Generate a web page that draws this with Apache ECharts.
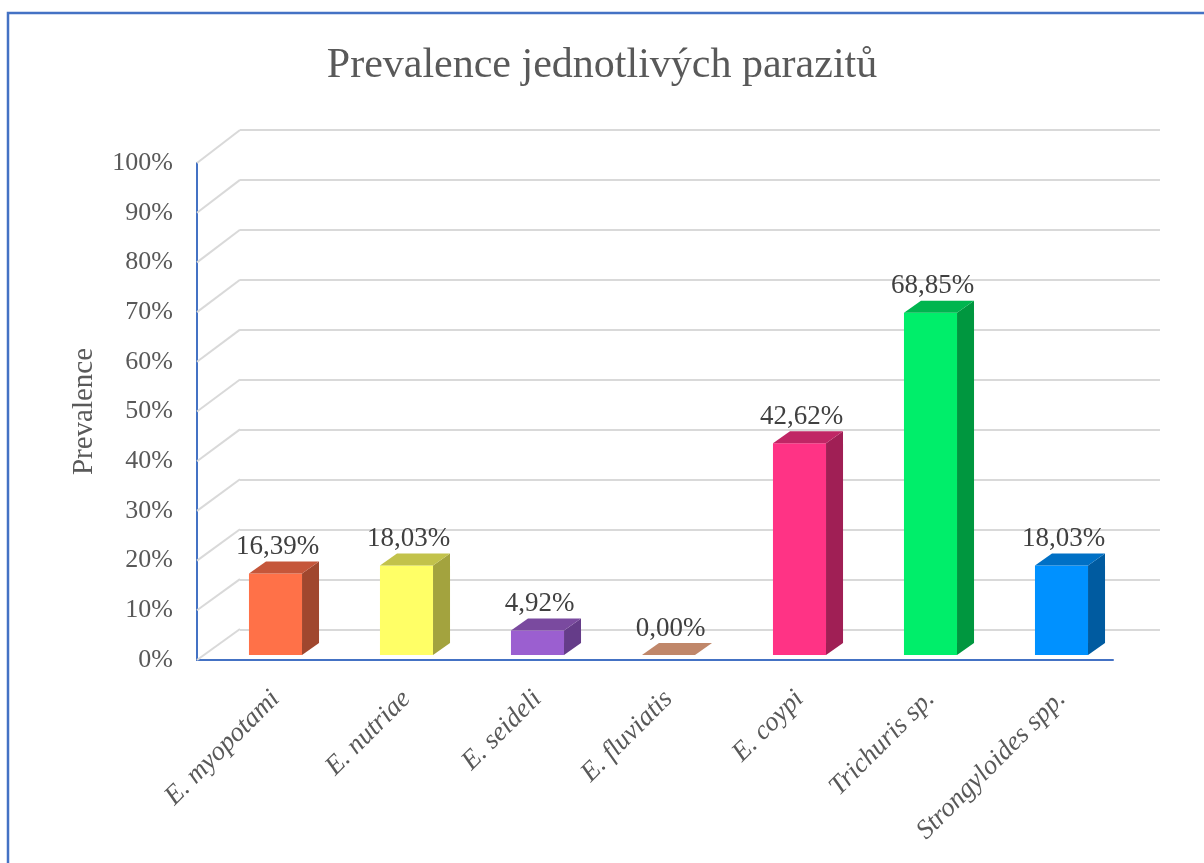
<!DOCTYPE html>
<html>
<head>
<meta charset="utf-8">
<script src="https://cdn.jsdelivr.net/npm/echarts@6/dist/echarts.min.js"></script>
<style>
  html, body { margin: 0; padding: 0; background: #fff; }
  #chart { width: 1204px; height: 863px; }
</style>
</head>
<body>
<div id="chart"></div>
<script>
const categories = ['E. myopotami', 'E. nutriae', 'E. seideli', 'E. fluviatis', 'E. coypi', 'Trichuris sp.', 'Strongyloides spp.'];
const prevalence = [16.39, 18.03, 4.92, 0.00, 42.62, 68.85, 18.03];
const yTicks = [0, 10, 20, 30, 40, 50, 60, 70, 80, 90, 100];

// front / side / top face colours of each bar
const frontColors = ['#FF7148', '#FFFF66', '#9B5FD0', '#C0876A', '#FF3385', '#00EE6A', '#0091FF'];
const sideColors  = ['#A0472E', '#A3A33E', '#653C89', '#8A5C45', '#A01F55', '#00973F', '#005BA0'];
const topColors   = ['#C5563A', '#C2C24B', '#7A4A9F', '#C0876A', '#C02665', '#00B54F', '#0070C5'];

const FONT = '"Liberation Serif", "Times New Roman", serif';
const DEPTH_X = 17, DEPTH_Y = 12;   // bar depth
const WALL_X = 43, WALL_Y = 31;     // front plane -> back wall

const myChart = echarts.init(document.getElementById('chart'));

const option = {
  animation: false,
  backgroundColor: '#fff',
  title: {
    text: 'Prevalence jednotlivých parazitů',
    left: 'center',
    top: 40,
    textStyle: { fontFamily: FONT, fontSize: 42, fontWeight: 'normal', color: '#595959' }
  },
  graphic: [{
    type: 'rect',
    shape: { x: 8, y: 13, width: 1400, height: 1000 },
    style: { fill: 'none', stroke: '#4472C4', lineWidth: 2.5 },
    silent: true,
    z: 100
  }],
  grid: [
    // front plane (axes)
    { left: 197, top: 163, width: 916, height: 497 },
    // back wall (gridlines)
    { left: 240, top: 130, width: 920, height: 500 },
    // bar plane
    { left: 210, top: 158, width: 917, height: 497 }
  ],
  xAxis: [
    {
      gridIndex: 0, type: 'value', min: 0, max: 1,
      axisLine: { show: true, lineStyle: { color: '#4472C4', width: 2 } },
      axisTick: { show: false }, axisLabel: { show: false }, splitLine: { show: false }
    },
    {
      gridIndex: 1, type: 'value', min: 0, max: 1, show: false
    },
    {
      gridIndex: 2, type: 'category', data: categories,
      axisLine: { show: false }, axisTick: { show: false },
      axisLabel: {
        rotate: 45, margin: 40, interval: 0,
        fontFamily: FONT, fontSize: 27, fontStyle: 'italic', color: '#595959'
      }
    }
  ],
  yAxis: [
    {
      gridIndex: 0, type: 'value', min: 0, max: 100, interval: 10,
      name: 'Prevalence', nameLocation: 'middle', nameGap: 98, nameRotate: 90,
      nameTextStyle: { fontFamily: FONT, fontSize: 29, color: '#595959' },
      axisLine: { show: true, lineStyle: { color: '#4472C4', width: 2 } },
      axisTick: { show: false },
      axisLabel: { formatter: '{value}%', margin: 24, fontFamily: FONT, fontSize: 26, color: '#595959' },
      splitLine: { show: false }
    },
    {
      gridIndex: 1, type: 'value', min: 0, max: 100, interval: 10,
      axisLine: { show: false }, axisTick: { show: false }, axisLabel: { show: false },
      splitLine: { show: true, lineStyle: { color: '#D9D9D9', width: 2 } }
    },
    {
      gridIndex: 2, type: 'value', min: 0, max: 100, show: false
    }
  ],
  series: [
    {
      // diagonal gridlines on the side wall
      type: 'custom',
      xAxisIndex: 0, yAxisIndex: 0,
      silent: true,
      z: 1,
      data: yTicks.map(v => [0, v]),
      renderItem: function (params, api) {
        const p = api.coord([0, api.value(1)]);
        return {
          type: 'line',
          shape: { x1: p[0], y1: p[1], x2: p[0] + WALL_X, y2: p[1] - WALL_Y - 2 * api.value(1) / 100 },
          style: { stroke: '#D9D9D9', lineWidth: 2 }
        };
      }
    },
    {
      // 3D bars
      type: 'custom',
      xAxisIndex: 2, yAxisIndex: 2,
      z: 5,
      data: prevalence.map((v, i) => [i, v]),
      renderItem: function (params, api) {
        const i = api.value(0);
        const v = api.value(1);
        const base = api.coord([i, 0]);
        const top = api.coord([i, v]);
        const w = api.size([1, 0])[0] * 0.405;
        const x0 = base[0] - w / 2, x1 = base[0] + w / 2;
        const yb = base[1], yt = top[1];
        const children = [];
        if (yb - yt > 0.5) {
          children.push({
            type: 'rect',
            shape: { x: x0, y: yt, width: w, height: yb - yt },
            style: { fill: frontColors[i] }
          });
          children.push({
            type: 'polygon',
            shape: { points: [[x1, yt], [x1 + DEPTH_X, yt - DEPTH_Y], [x1 + DEPTH_X, yb - DEPTH_Y], [x1, yb]] },
            style: { fill: sideColors[i] }
          });
        }
        children.push({
          type: 'polygon',
          shape: { points: [[x0, yt], [x0 + DEPTH_X, yt - DEPTH_Y], [x1 + DEPTH_X, yt - DEPTH_Y], [x1, yt]] },
          style: { fill: topColors[i] }
        });
        children.push({
          type: 'text',
          style: {
            x: base[0] + 2, y: yt - DEPTH_Y - 1,
            text: v.toFixed(2).replace('.', ',') + '%',
            textAlign: 'center', textVerticalAlign: 'bottom',
            font: '27px ' + FONT, fill: '#404040'
          }
        });
        return { type: 'group', children: children };
      }
    }
  ]
};

myChart.setOption(option);
</script>
</body>
</html>
